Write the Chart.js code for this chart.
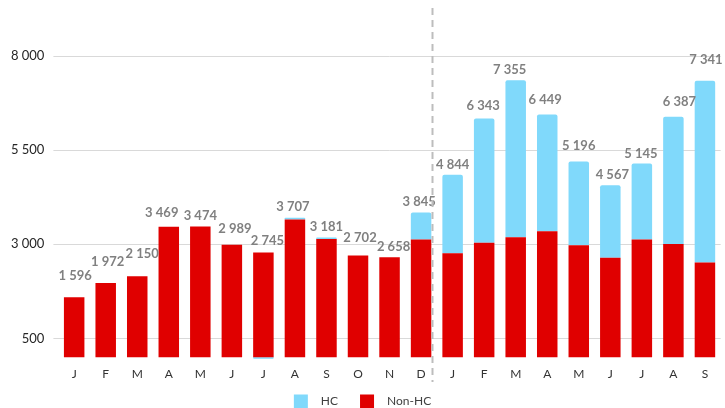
<!DOCTYPE html>
<html>
<head>
<meta charset="utf-8">
<script src="https://cdn.jsdelivr.net/npm/chart.js@4.4.1/dist/chart.umd.min.js"></script>
<style>
  html, body { margin: 0; padding: 0; background: #ffffff; }
  #c { display: block; }
</style>
</head>
<body>
<canvas id="c" width="725" height="408"></canvas>
<script>
// Monthly volumes, split into Non-HC (bottom) and HC (top)
const months = ['J','F','M','A','M','J','J','A','S','O','N','D','J','F','M','A','M','J','J','A','S'];
const nonHc  = [1596, 1972, 2150, 3469, 3474, 2989, 2785, 3660, 3140, 2702, 2658, 3130,
                2763, 3038, 3188, 3347, 2976, 2640, 3126, 3011, 2517];
const hc     = [0, 0, 0, 0, 0, 0, -40, 47, 41, 0, 0, 715,
                2081, 3305, 4167, 3102, 2220, 1927, 2019, 3376, 4824];
const yTicks = [500, 3000, 5500, 8000];

// Placement of each total label relative to the top of its bar: [dx, dy] in px,
// staggered so neighbouring labels don't collide
const labelOffsets = [[1,-21],[2,-21],[5,-23],[-7,-14],[0,-11],[3,-16],[4,-12],[-2,-11],[0,-11],[2,-18],[4,-10],[-2,-11],
                      [0,-10],[-1,-13],[-6,-10],[-2,-15],[0,-16],[2,-10],[-1,-10],[6,-15],[1,-21]];

const RED = '#e00000';
const BLUE = '#80d9fb';
const FONT = 'Lato, "Open Sans", sans-serif';

const fmt = v => String(v).replace(/\B(?=(\d{3})+(?!\d))/g, ' ');

// Stack totals written above each bar
const totalLabels = {
  id: 'totalLabels',
  afterDatasetsDraw(chart) {
    const { ctx } = chart;
    const bottomMeta = chart.getDatasetMeta(0);
    const topMeta = chart.getDatasetMeta(1);
    ctx.save();
    ctx.font = 'bold 13px ' + FONT;
    ctx.fillStyle = '#808080';
    ctx.textAlign = 'center';
    ctx.textBaseline = 'middle';
    months.forEach((m, i) => {
      const total = nonHc[i] + hc[i];
      const a = bottomMeta.data[i], b = topMeta.data[i];
      const topY = Math.min(a.y, b.y);
      const [dx, dy] = labelOffsets[i];
      ctx.fillText(fmt(total), a.x + dx, topY + dy);
    });
    ctx.restore();
  }
};

// Dashed separator after December
const yearDivider = {
  id: 'yearDivider',
  afterDraw(chart) {
    const { ctx } = chart;
    const dec = chart.getDatasetMeta(0).data[11];
    const x = Math.round(dec.x + dec.width / 2) + 1.5;
    ctx.save();
    ctx.strokeStyle = '#bdbdbd';
    ctx.lineWidth = 2;
    ctx.setLineDash([7, 5]);
    ctx.beginPath();
    ctx.moveTo(x, 8);
    ctx.lineTo(x, 382);
    ctx.stroke();
    ctx.restore();
  }
};

// Legend drawn under the axis labels
const bottomLegend = {
  id: 'bottomLegend',
  afterDraw(chart) {
    const { ctx, width } = chart;
    const items = [chart.data.datasets[1], chart.data.datasets[0]];
    ctx.save();
    ctx.font = '12px ' + FONT;
    ctx.textBaseline = 'middle';
    const box = 14, gapText = 13, gapItem = 22, cy = 401.5;
    const widths = items.map(d => box + gapText + ctx.measureText(d.label).width);
    const total = widths.reduce((s, w) => s + w, 0) + gapItem * (items.length - 1);
    let x = (width - total) / 2;
    items.forEach((d, k) => {
      ctx.fillStyle = d.backgroundColor;
      ctx.fillRect(x, cy - 7, box, box);
      ctx.fillStyle = '#404040';
      ctx.textAlign = 'left';
      ctx.fillText(d.label, x + box + gapText, cy);
      x += widths[k] + gapItem;
    });
    ctx.restore();
  }
};

new Chart(document.getElementById('c'), {
  type: 'bar',
  data: {
    labels: months,
    datasets: [
      { label: 'Non-HC', data: nonHc, backgroundColor: RED },
      { label: 'HC', data: hc, backgroundColor: BLUE, borderRadius: 2 }
    ]
  },
  options: {
    responsive: false,
    animation: false,
    devicePixelRatio: 1,
    layout: { padding: { top: 56, right: 4.3, bottom: 26, left: 0 } },
    datasets: { bar: { categoryPercentage: 1, barPercentage: 0.65 } },
    plugins: { legend: { display: false }, tooltip: { enabled: false } },
    scales: {
      x: {
        stacked: true,
        grid: { display: false, drawTicks: false },
        border: { display: false },
        ticks: { color: '#333333', font: { family: FONT, size: 12 }, padding: 7, maxRotation: 0, autoSkip: false },
        afterFit(scale) { scale.height = 21.7; }
      },
      y: {
        stacked: true,
        min: -80,
        max: 8000,
        grid: { color: '#d9d9d9', lineWidth: 1, tickLength: 5 },
        border: { display: false },
        ticks: {
          color: '#262626',
          font: { family: FONT, size: 13 },
          padding: 9,
          callback: v => fmt(v)
        },
        afterBuildTicks(scale) { scale.ticks = yTicks.map(v => ({ value: v })); },
        afterFit(scale) { scale.width = 58.4; }
      }
    }
  },
  plugins: [totalLabels, yearDivider, bottomLegend]
});
</script>
</body>
</html>
